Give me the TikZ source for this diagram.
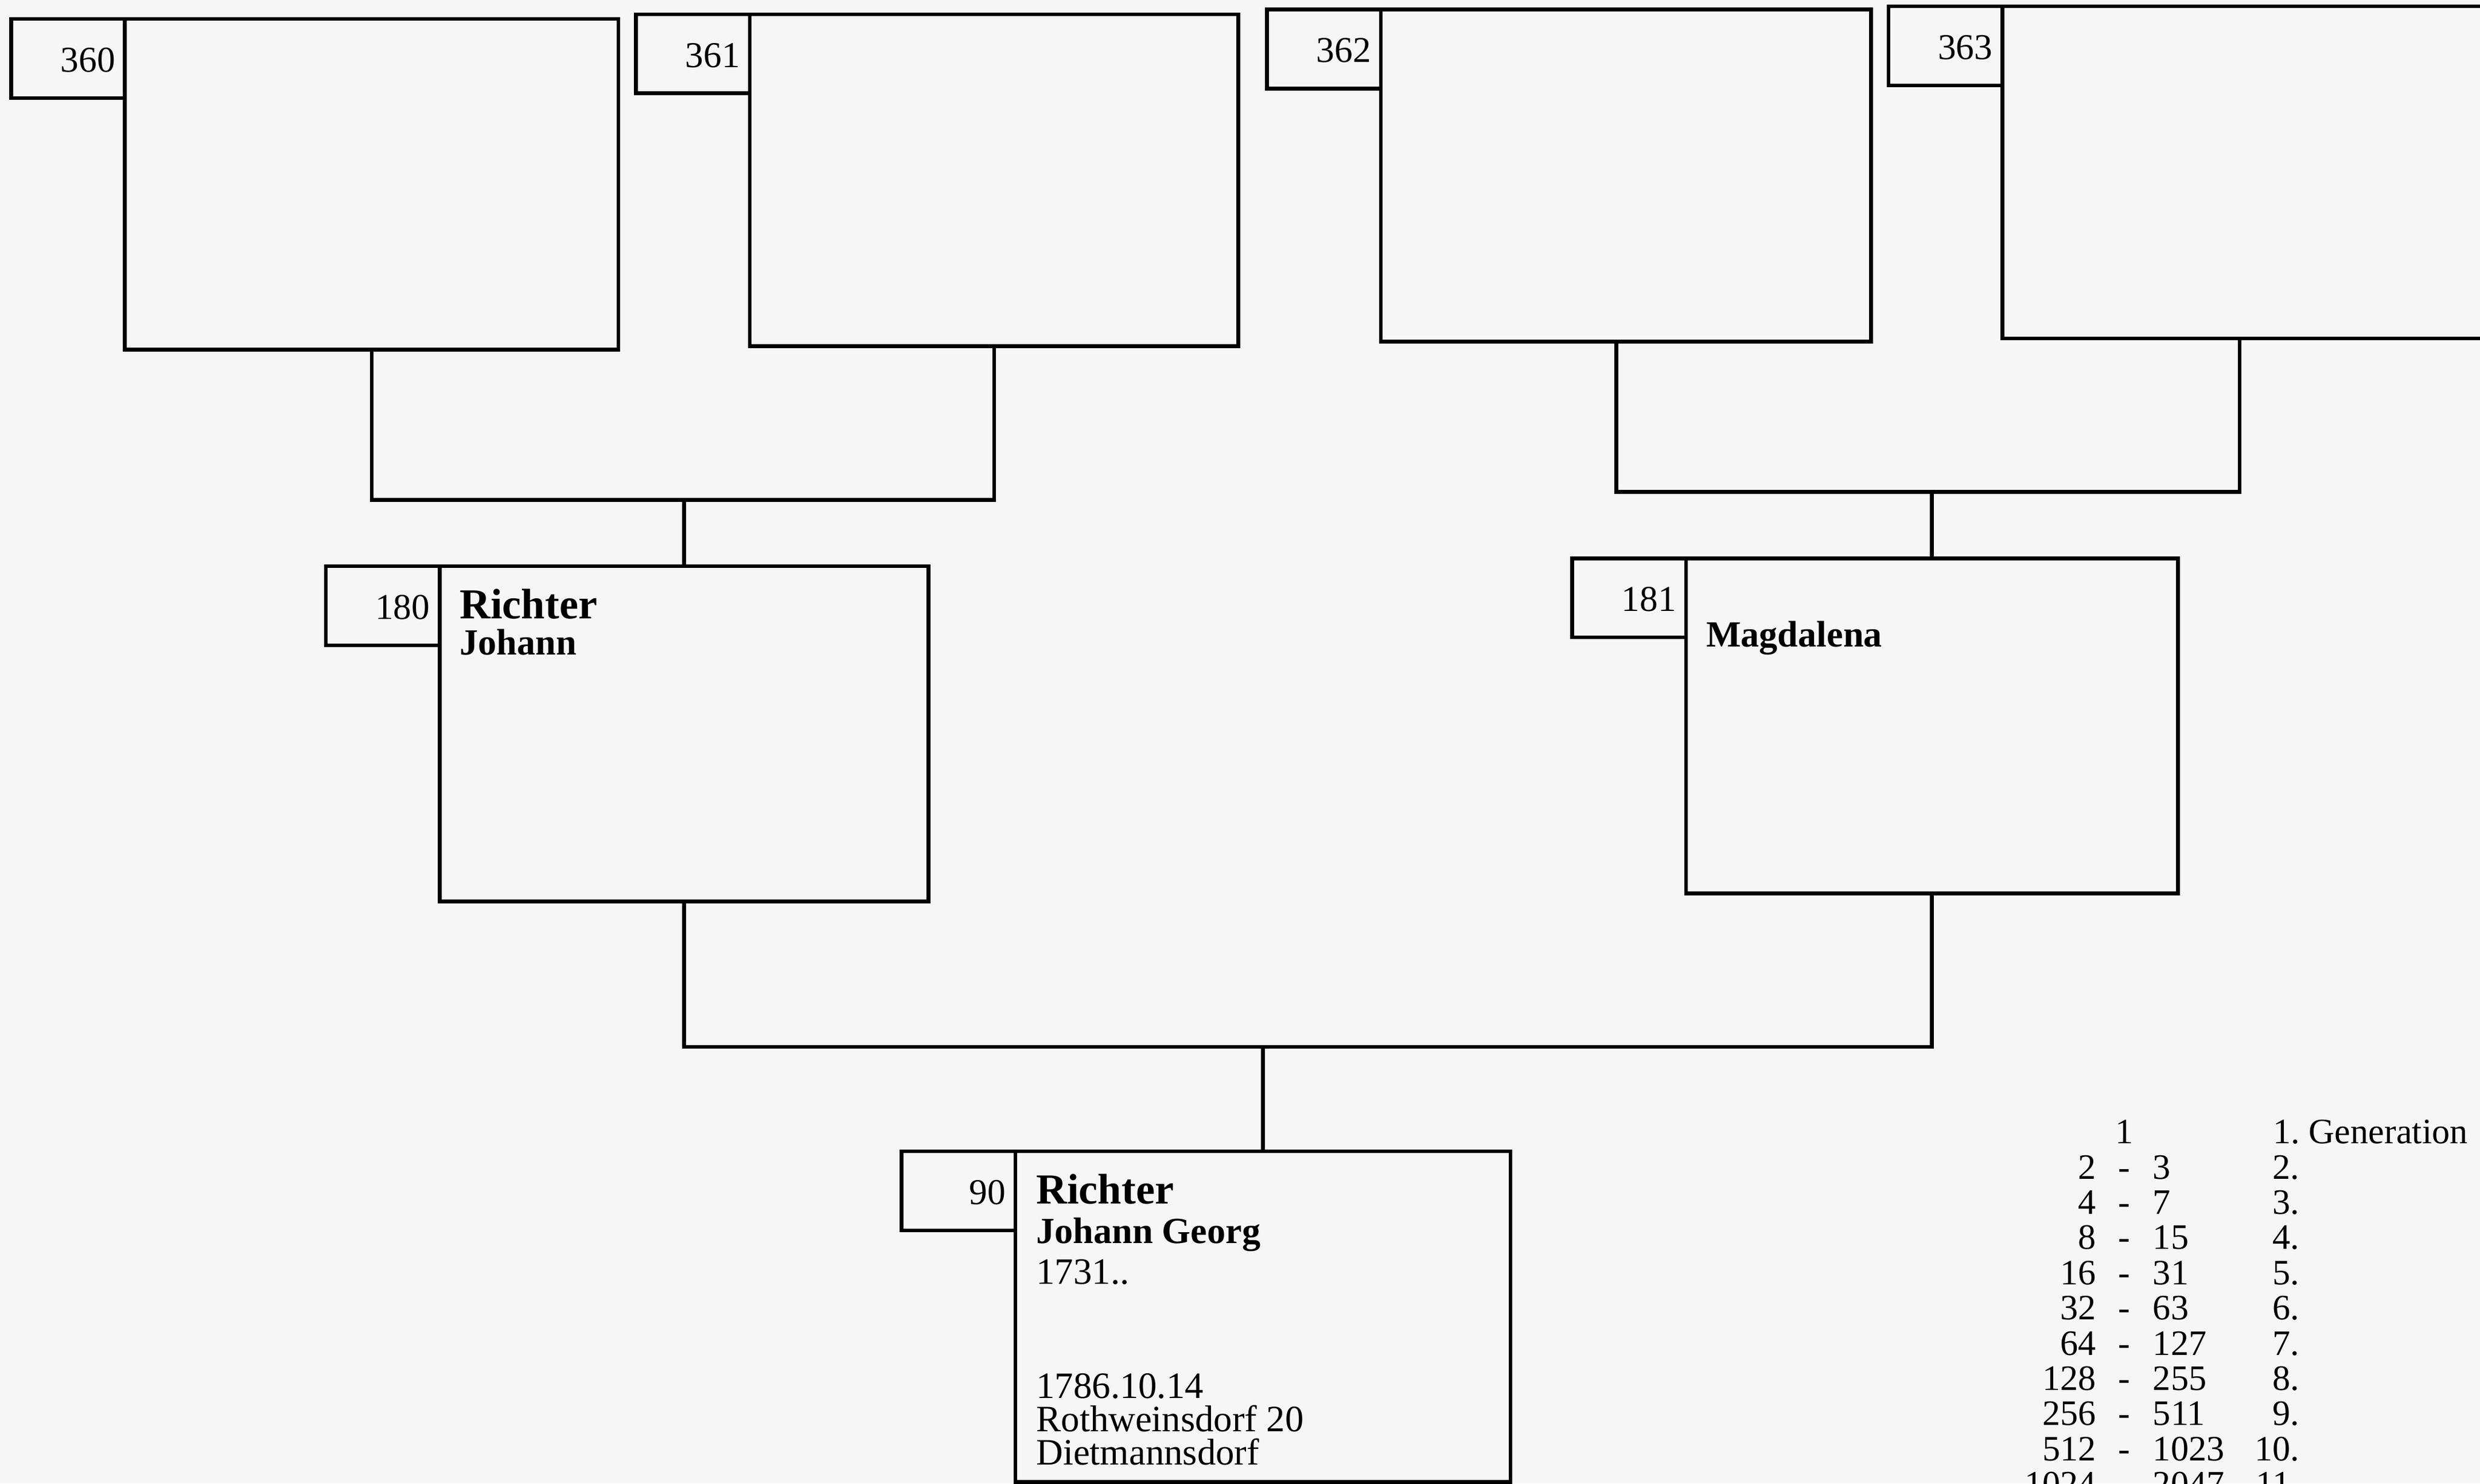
\documentclass[tikz,border=0pt]{standalone}
\usepackage{fontspec}
\setmainfont{Liberation Serif}
\usetikzlibrary{calc}
\definecolor{bgcol}{RGB}{246,246,246}
\begin{document}
\begin{tikzpicture}[x=1pt,y=-1pt,
  pbox/.style={draw, line width=2.4pt, inner sep=0pt, outer sep=0pt, anchor=north west},
  nbox/.style={draw, line width=2.4pt, inner sep=0pt, outer sep=0pt, anchor=north east, minimum width=72pt, minimum height=50pt},
  conn/.style={line width=2.4pt},
  numtxt/.style={anchor=base east, inner sep=0pt, font=\fontsize{23pt}{23pt}\selectfont},
  surname/.style={anchor=base west, inner sep=0pt, font=\fontsize{27pt}{27pt}\selectfont\bfseries},
  given/.style={anchor=base west, inner sep=0pt, font=\fontsize{23.3pt}{23.3pt}\selectfont\bfseries},
  info/.style={anchor=base west, inner sep=0pt, font=\fontsize{23.5pt}{23.5pt}\selectfont},
  leg/.style={inner sep=0pt, font=\fontsize{22.6pt}{22.6pt}\selectfont}]

\fill[bgcol] (0,0) rectangle (1568,938);
\useasboundingbox (0,0) rectangle (1568,938);
\clip (0,0) rectangle (1568,938);

% ---------- generation 9 ----------
\node[pbox, minimum width=312pt, minimum height=209pt] (p360) at (79,12) {};
\node[nbox] (n360) at (p360.north west) {};
\node[numtxt] (t360) at ($(p360.north west)+(-6,33.5)$) {360};

\node[pbox, minimum width=309pt, minimum height=210pt] (p361) at (474,9) {};
\node[nbox] (n361) at (p361.north west) {};
\node[numtxt] (t361) at ($(p361.north west)+(-6,33.5)$) {361};

\node[pbox, minimum width=310pt, minimum height=210pt] (p362) at (873,6) {};
\node[nbox] (n362) at (p362.north west) {};
\node[numtxt] (t362) at ($(p362.north west)+(-6,33.5)$) {362};

\node[pbox, minimum width=320pt, minimum height=210pt] (p363) at (1266,4) {};
\node[nbox] (n363) at (p363.north west) {};
\node[numtxt] (t363) at ($(p363.north west)+(-6,33.5)$) {363};

% ---------- generation 8 ----------
\node[pbox, minimum width=309pt, minimum height=212pt] (p180) at (278,358) {};
\node[nbox] (n180) at (p180.north west) {};
\node[numtxt] (t180) at ($(p180.north west)+(-6,33.5)$) {180};
\node[surname] (s180) at ($(p180.north west)+(12.5,33)$) {Richter};
\node[given] (g180) at ($(p180.north west)+(12.5,56)$) {Johann};

\node[pbox, minimum width=311pt, minimum height=212pt] (p181) at (1066,353) {};
\node[nbox] (n181) at (p181.north west) {};
\node[numtxt] (t181) at ($(p181.north west)+(-6,33.5)$) {181};
\node[given] (g181) at ($(p181.north west)+(12.5,56)$) {Magdalena};

% ---------- generation 7 ----------
\node[pbox, minimum width=313pt, minimum height=209pt] (p90) at (642,728) {};
\node[nbox] (n90) at (p90.north west) {};
\node[numtxt] (t90) at ($(p90.north west)+(-6,33.5)$) {90};
\node[surname] (s90) at ($(p90.north west)+(13,33)$) {Richter};
\node[given] (g90) at ($(p90.north west)+(13,58)$) {Johann Georg};
\node[info] (b90) at ($(p90.north west)+(13,84)$) {1731..};
\node[info] (d90) at ($(p90.north west)+(13,156)$) {1786.10.14};
\node[info] (r90) at ($(p90.north west)+(13,177)$) {Rothweinsdorf 20};
\node[info] (o90) at ($(p90.north west)+(13,198)$) {Dietmannsdorf};

% ---------- connectors ----------
\coordinate (y1) at (0,316);
\coordinate (j1) at (p180.north |- y1);
\draw[conn] (p360.south) |- (j1) -| (p361.south);
\draw[conn] (j1) -- (p180.north);

\coordinate (y2) at (0,311);
\coordinate (j2) at (p181.north |- y2);
\coordinate (c362) at (1022,0);
\coordinate (c363) at (1416,0);
\draw[conn] (p362.south -| c362) |- (j2) -| (p363.south -| c363);
\draw[conn] (j2) -- (p181.north);

\coordinate (y3) at (0,662);
\coordinate (j3) at (p90.north |- y3);
\draw[conn] (p180.south) |- (j3) -| (p181.south);
\draw[conn] (j3) -- (p90.north);

% ---------- legend ----------
\node[leg, anchor=base] (la1) at (1343,723.1) {1};
\node[leg, anchor=base west] (lg1) at (1454,723.1) {\llap{1.}\ Generation};
\foreach \a/\b/\g [count=\k] in {2/3/2, 4/7/3, 8/15/4, 16/31/5, 32/63/6, 64/127/7, 128/255/8, 256/511/9, 512/1023/10, 1024/2047/11} {
  \pgfmathsetmacro\yy{723.1+\k*22.27}
  \node[leg, anchor=base east] (la\g) at (1325.5,\yy) {\a};
  \node[leg, anchor=base] (ld\g) at (1343,\yy) {-};
  \node[leg, anchor=base west] (lb\g) at (1361,\yy) {\b};
  \node[leg, anchor=base east] (lg\g) at (1454,\yy) {\g.};
}
\end{tikzpicture}
\end{document}
